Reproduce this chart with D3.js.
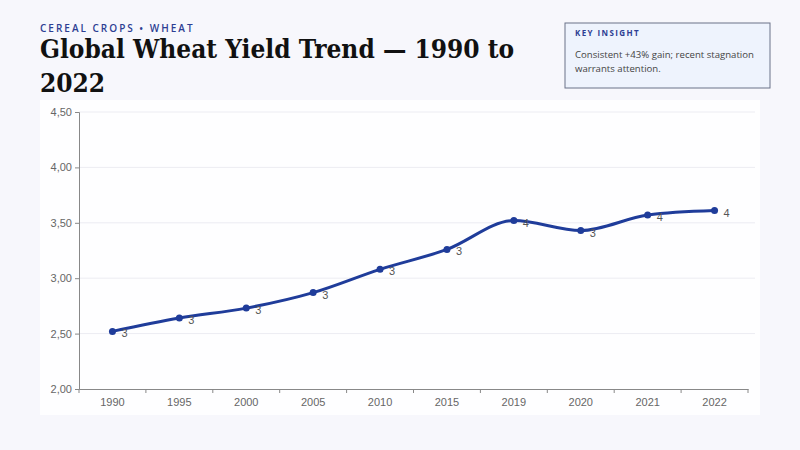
<!DOCTYPE html>
<html>
<head>
<meta charset="utf-8">
<script src="https://cdn.jsdelivr.net/npm/d3@7"></script>
<style>
  html, body { margin: 0; padding: 0; background: #f7f7fc; }
  svg { display: block; }
</style>
</head>
<body>
<svg id="chart" width="800" height="450"></svg>
<script>
const years = ["1990","1995","2000","2005","2010","2015","2019","2020","2021","2022"];
const yieldValues = [2.52, 2.64, 2.73, 2.87, 3.08, 3.26, 3.52, 3.43, 3.57, 3.61];
const yTicks = [2.0, 2.5, 3.0, 3.5, 4.0, 4.5];
const kicker = "CEREAL CROPS • WHEAT";
const titleLines = ["Global Wheat Yield Trend — 1990 to", "2022"];
const insightHead = "KEY INSIGHT";
const insightLines = ["Consistent +43% gain; recent stagnation", "warrants attention."];

const svg = d3.select("#chart");
svg.append("rect").attr("width", 800).attr("height", 450).attr("fill", "#f7f7fc");

// header
svg.append("text").attr("x", 40).attr("y", 31.5)
  .attr("font-family", "'Open Sans', 'Noto Sans', sans-serif")
  .attr("font-size", 10).attr("font-weight", 600).attr("letter-spacing", 2)
  .attr("fill", "#2d3e93").text(kicker);
svg.append("g").selectAll("text").data(titleLines).join("text")
  .attr("x", 40).attr("y", (d, i) => 58 + i * 34)
  .attr("font-family", "'DejaVu Serif', serif")
  .style("font-stretch", "condensed")
  .attr("font-size", 26).attr("font-weight", 700).attr("fill", "#111")
  .text(d => d);

// insight box
svg.append("rect").attr("x", 565).attr("y", 23).attr("width", 205).attr("height", 65)
  .attr("fill", "#eef3fd").attr("stroke", "#6b7288").attr("stroke-width", 1);
svg.append("text").attr("x", 575).attr("y", 36)
  .attr("font-family", "'Open Sans', 'Noto Sans', sans-serif")
  .attr("font-size", 8).attr("font-weight", 700).attr("letter-spacing", 1.4)
  .attr("fill", "#2d3e93").text(insightHead);
svg.append("g").selectAll("text").data(insightLines).join("text")
  .attr("x", 575).attr("y", (d, i) => 58 + i * 14)
  .attr("font-family", "'Open Sans', 'Noto Sans', sans-serif")
  .attr("font-size", 9.6).attr("fill", "#444").text(d => d);

// plot panel
svg.append("rect").attr("x", 40).attr("y", 100).attr("width", 720).attr("height", 315)
  .attr("fill", "#fefeff");

const margin = { left: 79, right: 748, top: 112, bottom: 389 };
const x = d3.scaleBand().domain(years).range([margin.left, margin.right]).padding(0);
const y = d3.scaleLinear().domain([2.0, 4.5]).range([margin.bottom, margin.top]);

// grid
svg.append("g").selectAll("line").data(yTicks.slice(1)).join("line")
  .attr("x1", margin.left).attr("x2", 755)
  .attr("y1", d => y(d)).attr("y2", d => y(d))
  .attr("stroke", "#ececf2").attr("stroke-width", 1);

const fmt = d => d.toFixed(2).replace(".", ",");
const yAxis = svg.append("g").attr("transform", `translate(${margin.left},0)`)
  .call(d3.axisLeft(y).tickValues(yTicks).tickFormat(fmt).tickSize(4).tickPadding(3));
const xAxis = svg.append("g").attr("transform", `translate(0,${margin.bottom})`)
  .call(d3.axisBottom(x).tickSize(0).tickPadding(9));
// boundary ticks
xAxis.append("g").selectAll("line").data(d3.range(years.length + 1)).join("line")
  .attr("x1", i => margin.left + i * x.step()).attr("x2", i => margin.left + i * x.step())
  .attr("y1", 0).attr("y2", 4).attr("stroke", "#888");

[yAxis, xAxis].forEach(g => {
  g.style("color", "#888");
  g.select(".domain").attr("stroke", "#888");
  g.selectAll(".tick line").attr("stroke", "#888");
  g.selectAll("text").style("fill", "#666")
    .attr("font-family", "'Liberation Sans', Arial, sans-serif").attr("font-size", 11);
});

const pts = years.map((yr, i) => ({ yr, v: yieldValues[i] }));
const cx = d => x(d.yr) + x.bandwidth() / 2;
const line = d3.line().x(cx).y(d => y(d.v)).curve(d3.curveMonotoneX);

svg.append("path").datum(pts).attr("d", line)
  .attr("fill", "none").attr("stroke", "#1f3c9a").attr("stroke-width", 3)
  .attr("stroke-linecap", "round");
svg.append("g").selectAll("circle").data(pts).join("circle")
  .attr("cx", cx).attr("cy", d => y(d.v)).attr("r", 3.5).attr("fill", "#1f3c9a");
svg.append("g").selectAll("text").data(pts).join("text")
  .attr("x", d => cx(d) + 9).attr("y", d => y(d.v) + 6)
  .attr("font-family", "'Liberation Sans', Arial, sans-serif").attr("font-size", 11)
  .style("fill", "#555").text(d => Math.round(d.v));
</script>
</body>
</html>
